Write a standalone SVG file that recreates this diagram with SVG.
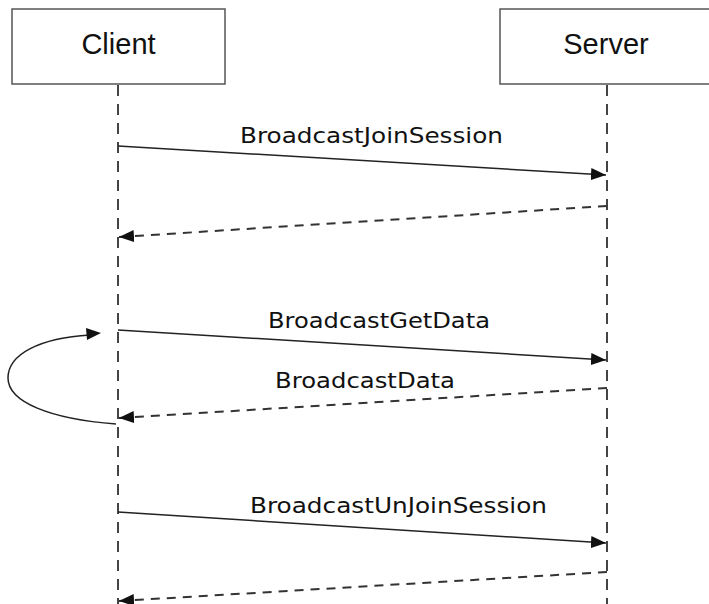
<svg xmlns="http://www.w3.org/2000/svg" width="709" height="604" viewBox="0 0 709 604">
<style>
.box{fill:#fff;stroke:#555;stroke-width:1.5}
.title{font-family:"Liberation Sans",Arial,sans-serif;font-size:29px;fill:#111;text-anchor:middle}
.life{stroke:#444;stroke-width:2;stroke-dasharray:11 8;fill:none}
.msg{stroke:#222;stroke-width:1.5;fill:none}
.ret{stroke:#333;stroke-width:2;stroke-dasharray:9 7;fill:none}
.lbl{font-family:"DejaVu Sans","Liberation Sans",sans-serif;font-size:21px;fill:#111;font-weight:normal}
.head{fill:#111}
</style>
<defs>
<marker id="ah" markerWidth="16" markerHeight="12" refX="15" refY="6" orient="auto" markerUnits="userSpaceOnUse">
<path d="M0,0 L15,6 L0,12 Z" fill="#111"/>
</marker>
</defs>
<rect width="709" height="604" fill="#fff"/>
<g id="client">
<rect class="box" x="12" y="9" width="213" height="75"/>
<text class="title" x="118.5" y="54">Client</text>
<line class="life" x1="118" y1="85" x2="118" y2="604"/>
</g>
<g id="server">
<rect class="box" x="500" y="9" width="220" height="75"/>
<text class="title" x="606" y="54">Server</text>
<line class="life" x1="607" y1="85" x2="607" y2="604"/>
</g>
<g id="connectors">
<line class="msg" x1="118" y1="146" x2="606" y2="175" marker-end="url(#ah)"/>
<line class="ret" x1="607" y1="206" x2="119" y2="237" marker-end="url(#ah)"/>
<line class="msg" x1="118" y1="330" x2="606" y2="360" marker-end="url(#ah)"/>
<line class="ret" x1="607" y1="388" x2="119" y2="418" marker-end="url(#ah)"/>
<path class="msg" d="M116,424 C50,419 8,402 8,378 C8,354 40,338 90,335"/>
<polygon class="head" points="101,333 86,328 87,340"/>
<line class="msg" x1="118" y1="512" x2="606" y2="543" marker-end="url(#ah)"/>
<line class="ret" x1="607" y1="572" x2="119" y2="601" marker-end="url(#ah)"/>
<text class="lbl" x="240" y="143" textLength="263" lengthAdjust="spacingAndGlyphs">BroadcastJoinSession</text>
<text class="lbl" x="268" y="328" textLength="222" lengthAdjust="spacingAndGlyphs">BroadcastGetData</text>
<text class="lbl" x="275" y="388" textLength="180" lengthAdjust="spacingAndGlyphs">BroadcastData</text>
<text class="lbl" x="250" y="513" textLength="297" lengthAdjust="spacingAndGlyphs">BroadcastUnJoinSession</text>
</g>
</svg>
